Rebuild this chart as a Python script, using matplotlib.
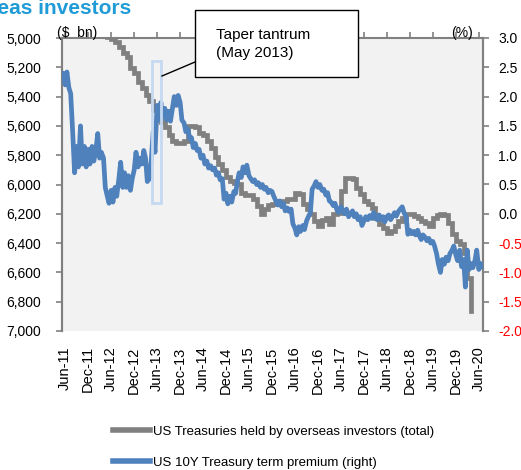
import numpy as np
import pandas as pd
import matplotlib
matplotlib.use('Agg')
import matplotlib.pyplot as plt
import matplotlib.dates as mdates
from matplotlib.patches import Rectangle
from matplotlib.lines import Line2D

plt.rcParams['font.family'] = ['Liberation Sans', 'DejaVu Sans']

# --- data ---
# US Treasuries held by overseas investors ($ bn), monthly from Apr-2012
gray_start = '2012-04-01'
gray_vals = [
    4950, 4990, 5010, 5030, 5060, 5100, 5130, 5205, 5240, 5300,
    5340, 5390, 5430, 5490, 5530, 5575, 5610, 5665, 5700, 5720,
    5715, 5700, 5600, 5600, 5610, 5650, 5665, 5700, 5750, 5815,
    5860, 5900, 5950, 5975, 5990, 5995, 6060, 6075, 6075, 6096,
    6150, 6200, 6170, 6140, 6130, 6110, 6110, 6110, 6100, 6096,
    6055, 6062, 6130, 6170, 6200, 6250, 6281, 6240, 6226, 6267,
    6199, 6192, 6041, 5959, 5959, 5965, 6021, 6062, 6110, 6130,
    6160, 6230, 6270, 6300, 6329, 6315, 6281, 6247, 6230, 6199,
    6199, 6215, 6226, 6250, 6260, 6281, 6226, 6205, 6199, 6210,
    6260, 6336, 6384, 6404, 6466, 6637, 6863,
]

# US 10Y Treasury term premium (%), semi-monthly from May-2011
blue_start = '2011-05-01'
blue_vals = [
    2.30, 2.40, 2.20, 2.42, 2.15, 2.05, 1.35, 0.70, 1.15, 0.80,
    1.50, 0.85, 1.15, 0.80, 1.10, 0.85, 1.15, 0.90, 1.10, 1.37,
    0.95, 1.05, 0.95, 0.45, 0.30, 0.18, 0.40, 0.20, 0.45, 0.30,
    0.60, 0.88, 0.45, 0.70, 0.45, 0.65, 0.40, 0.60, 0.75, 1.05,
    0.80, 0.95, 0.85, 1.08, 0.95, 0.55, 0.60, 0.90, 1.40, 1.05,
    1.85, 1.60, 1.90, 1.65, 1.80, 1.60, 1.75, 1.58, 1.80, 2.00,
    1.85, 2.02, 1.90, 1.60, 1.55, 1.40, 1.45, 1.28, 1.30, 1.13,
    1.20, 1.08, 1.10, 0.95, 1.00, 0.85, 0.90, 0.78, 0.82, 0.75,
    0.78, 0.66, 0.70, 0.58, 0.60, 0.25, 0.35, 0.17, 0.30, 0.20,
    0.38, 0.35, 0.55, 0.70, 0.62, 0.80, 0.70, 0.83, 0.65, 0.60,
    0.55, 0.58, 0.50, 0.53, 0.45, 0.50, 0.42, 0.45, 0.36, 0.40,
    0.38, 0.30, 0.22, 0.15, 0.22, 0.12, 0.18, 0.05, 0.10, 0.04,
    0.08, -0.17, -0.25, -0.36, -0.22, -0.30, -0.20, -0.27, -0.12, -0.05,
    0.02, 0.42, 0.48, 0.55, 0.45, 0.50, 0.40, 0.42, 0.32, 0.36,
    0.22, 0.20, 0.14, 0.18, 0.06, 0.02, 0.12, 0.05, 0.00, 0.08,
    -0.05, 0.00, 0.05, -0.05, 0.00, -0.10, -0.05, -0.20, -0.12, -0.05,
    -0.10, -0.03, -0.08, 0.02, -0.05, -0.10, -0.02, -0.10, -0.05, -0.14,
    -0.05, -0.02, -0.10, -0.05, 0.02, -0.04, 0.04, 0.08, 0.12, 0.02,
    -0.05, -0.35, -0.28, -0.34, -0.30, -0.36, -0.28, -0.38, -0.44, -0.36,
    -0.40, -0.46, -0.42, -0.50, -0.47, -0.55, -0.68, -0.85, -1.00, -0.78,
    -0.86, -0.74, -0.80, -0.68, -0.62, -0.55, -0.70, -0.80, -0.62, -0.90,
    -0.78, -1.25, -0.62, -0.95, -0.85, -0.92, -0.80, -0.62, -0.95, -0.85,
    -0.90,
]

left_ticks = [5000, 5200, 5400, 5600, 5800, 6000, 6200, 6400, 6600, 6800, 7000]
right_ticks = [3.0, 2.5, 2.0, 1.5, 1.0, 0.5, 0.0, -0.5, -1.0, -1.5, -2.0]
gray_label = 'US Treasuries held by overseas investors (total)'
blue_label = 'US 10Y Treasury term premium (right)'
note_text = 'Taper tantrum\n(May 2013)'
taper_window = ('2013-04-22', '2013-07-01')
taper_range = (0.19, 2.61)

gray_dates = pd.date_range(gray_start, periods=len(gray_vals), freq='MS')
blue_dates = pd.date_range(blue_start, periods=len(blue_vals), freq='SMS')
x_ticks = pd.date_range('2011-06-01', '2020-06-01', freq='6MS')

GRAY = '#808080'
BLUE = '#4f81bd'
W, H = 521, 470

# --- figure ---
fig = plt.figure(figsize=(W / 100, H / 100), dpi=100)
ax = fig.add_axes([62 / W, 1 - 331 / H, (483 - 62) / W, (331 - 38) / H])
ax.set_facecolor('#f2f2f2')
ax2 = ax.twinx()

ax.plot(gray_dates, gray_vals, color=GRAY, lw=3.4, drawstyle='steps-post',
        solid_joinstyle='miter', zorder=3)
ax2.plot(blue_dates, blue_vals, color=BLUE, lw=3.4, solid_joinstyle='round', zorder=3)

# taper tantrum window
x0 = mdates.date2num(pd.Timestamp(taper_window[0]))
x1 = mdates.date2num(pd.Timestamp(taper_window[1]))
ax2.add_patch(Rectangle((x0, taper_range[0]), x1 - x0, taper_range[1] - taper_range[0],
                        fill=False, edgecolor='#c5d9f1', lw=2.0, zorder=5))

# axes limits / scales
ax.set_xlim(pd.Timestamp('2011-05-07'), pd.Timestamp('2020-07-04'))
ax.set_ylim(7000, 5000)
ax2.set_ylim(-2.0, 3.0)

ax.set_yticks(left_ticks)
ax.set_yticklabels([f'{v:,}' for v in left_ticks])
ax2.set_yticks(right_ticks)
ax2.set_yticklabels([f'{v:.1f}' for v in right_ticks])
for lab, v in zip(ax2.get_yticklabels(), right_ticks):
    lab.set_color('red' if v < 0 else 'black')

ax.set_xticks(x_ticks)
ax.set_xticklabels([d.strftime('%b-%y') for d in x_ticks], rotation=90,
                   fontsize=10.5)
ax.tick_params(axis='x', length=0, pad=11)
top = ax.secondary_xaxis('top')
top.set_xticks(x_ticks)
top.set_xticklabels([])
top.tick_params(axis='x', length=4, width=1.2, color=GRAY, direction='out')
top.spines['top'].set_color(GRAY)
top.spines['top'].set_linewidth(1.5)

ax.tick_params(axis='y', labelsize=10, length=4, width=1.2, color=GRAY, pad=11)
ax2.tick_params(axis='y', labelsize=10, length=4, width=1.2, color=GRAY, pad=7)

for a in (ax, ax2):
    a.spines['bottom'].set_visible(False)
    a.spines['top'].set_visible(False)
    a.spines['left'].set_color(GRAY)
    a.spines['right'].set_color(GRAY)
    a.spines['left'].set_linewidth(1.5)
    a.spines['right'].set_linewidth(1.5)

# unit labels
fig.text(57 / W, 1 - 37 / H, '($  bn)', fontsize=10, ha='left', va='baseline')
fig.text(451 / W, 1 - 37 / H, '(%)', fontsize=10, ha='left', va='baseline')

# title, cut off by the top edge as in the source crop
fig.text(131 / W, 1 - 14 / H, 'Overseas investors', fontsize=15, fontweight='bold',
         color='#1f9bd7', ha='right', va='baseline')

# annotation box and leader line
fig.patches.append(Rectangle((195 / W, 1 - 77 / H), (358 - 195) / W, 67 / H,
                             transform=fig.transFigure, facecolor='white',
                             edgecolor='black', lw=1.0, zorder=10))
fig.text(216 / W, 1 - 44 / H, note_text, fontsize=11, ha='left', va='center',
         linespacing=1.45, zorder=11)
fig.add_artist(Line2D([162 / W, 195 / W], [1 - 76 / H, 1 - 62 / H],
                      transform=fig.transFigure, color='black', lw=1.0, zorder=10))

# legend
handles = [Line2D([], [], color=GRAY, lw=4), Line2D([], [], color=BLUE, lw=4)]
fig.legend(handles, [gray_label, blue_label], loc='upper left',
           bbox_to_anchor=(106 / W, 1 - 419 / H), frameon=False, fontsize=9.5,
           handlelength=2.8, handletextpad=0.25, labelspacing=1.4, borderpad=0)

fig.savefig('out.png', dpi=100)
